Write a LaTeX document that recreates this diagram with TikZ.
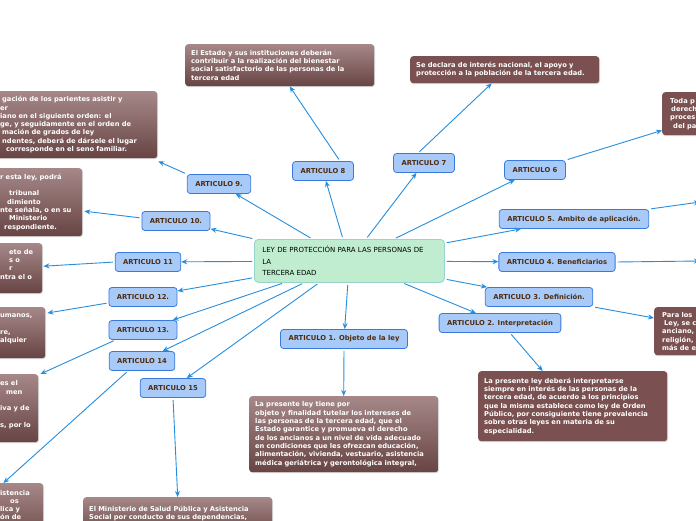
\documentclass[tikz,border=0pt]{standalone}
\usepackage{fontspec}
\setmainfont{DejaVu Sans}
\usetikzlibrary{arrows.meta,shadows}

\definecolor{linkblue}{RGB}{38,142,222}
\definecolor{artfill}{RGB}{168,202,248}
\definecolor{artline}{RGB}{58,122,222}
\definecolor{arttext}{RGB}{80,44,16}
\definecolor{leyfill}{RGB}{192,236,208}
\definecolor{leyline}{RGB}{150,212,204}
\definecolor{infoflat}{RGB}{122,80,80}
\definecolor{infotop}{RGB}{166,136,136}
\definecolor{infobot}{RGB}{104,68,68}

\tikzset{
  article/.style={draw=artline,fill=artfill,line width=0.8pt,rounded corners=3pt,
    text=arttext,font=\bfseries\fontsize{6.8}{8}\selectfont,inner xsep=8pt,minimum height=19pt},
  info/.style={anchor=north west,rounded corners=3pt,text=white,align=left,
    font=\bfseries\fontsize{6.7}{8.3}\selectfont,inner xsep=6pt,text width=177pt,
    drop shadow={shadow xshift=0.8pt,shadow yshift=-1pt,opacity=0.3}},
  flatbox/.style={info,fill=infoflat},
  shadebox/.style={info,top color=infotop,bottom color=infobot},
  cutbox/.style={inner xsep=8pt},
  conn/.style={draw=linkblue,line width=0.9pt,shorten <=2pt,-{Stealth[length=6pt,width=5pt]}},
}

\begin{document}
\begin{tikzpicture}[x=1pt,y=-1pt]
        \useasboundingbox (0,0) rectangle (696,520);
        \clip (0,0) rectangle (696,520);
        \fill[white] (0,0) rectangle (696,520);
        % central topic
        \node[draw=leyline,fill=leyfill,line width=0.8pt,rounded corners=4pt,anchor=north west,
          align=left,text width=174pt,inner xsep=8pt,minimum height=43pt,font=\fontsize{7}{11.5}\selectfont]
          (ley) at (254,239) {LEY DE PROTECCIÓN PARA LAS PERSONAS DE\\LA\\TERCERA EDAD};
        % articles
        \node[article] (a1) at (344,339) {ARTICULO 1. Objeto de la ley};
        \node[article] (a2) at (500,323) {ARTICULO 2. Interpretación};
        \node[article] (a3) at (539,297) {ARTICULO 3. Definición.};
        \node[article] (a4) at (557,262) {ARTICULO 4. Beneficiarios};
        \node[article] (a5) at (574,219) {ARTICULO 5. Ambito de aplicación.};
        \node[article] (a6) at (535,170) {ARTICULO 6};
        \node[article] (a7) at (424,163) {ARTICULO 7};
        \node[article] (a8) at (323,171) {ARTICULO 8};
        \node[article] (a9) at (219,184) {ARTICULO 9.};
        \node[article] (a10) at (176,221) {ARTICULO 10.};
        \node[article] (a11) at (148,262) {ARTICULO 11};
        \node[article] (a12) at (143,297) {ARTICULO 12.};
        \node[article] (a13) at (143,330) {ARTICULO 13.};
        \node[article] (a14) at (142,361) {ARTICULO 14};
        \node[article] (a15) at (173,388) {ARTICULO 15};
        % texts
        \node[shadebox,minimum height=42pt] (t8) at (185,44) {El Estado y sus instituciones deberán\\
          contribuir a la realización del bienestar\\social satisfactorio de las personas de la\\tercera edad};
        \node[flatbox,minimum height=27pt] (t7) at (410,56) {Se declara de interés nacional, el apoyo y\\
          protección a la población de la tercera edad.};
        \node[flatbox,cutbox,text width=60pt,minimum height=43pt] (t6) at (662,92)
          {Toda p\\\hspace*{1pt}derech\\proces\\\hspace*{3pt}del pa};
        \coordinate (t5) at (700,202);
        \coordinate (t4) at (700,261);
        \node[flatbox,cutbox,text width=60pt,minimum height=48pt] (t3) at (654,307)
          {Para los\\\hspace*{2pt}Ley, se c\\anciano,\\religión,\\más de e};
        \node[flatbox,minimum height=70pt] (t2) at (478,371) {La presente ley deberá interpretarse\\
          siempre en interés de las personas de la\\tercera edad, de acuerdo a los principios\\
          que la misma establece como ley de Orden\\Público, por consiguiente tiene prevalencia\\
          sobre otras leyes en materia de su\\especialidad.};
        \node[shadebox,minimum height=76pt] (t1) at (249,396) {La presente ley tiene por\\
          objeto y finalidad tutelar los intereses de\\las personas de la tercera edad, que el\\
          Estado garantice y promueva el derecho\\de los ancianos a un nivel de vida adecuado\\
          en condiciones que les ofrezcan educación,\\alimentación, vivienda, vestuario, asistencia\\
          médica geriátrica y gerontológica integral,};
        \node[shadebox,minimum height=40pt] (t15) at (83,497) {El Ministerio de Salud Pública y Asistencia\\
          Social por conducto de sus dependencias,\\\mbox{}};
        \node[shadebox,cutbox,text width=149pt,minimum height=67pt] (t9) at (-8,91)
          {\hspace*{2pt}gación de los parientes asistir y\\er\\iano en el siguiente orden: el\\
          ge, y seguidamente en el orden de\\\hspace*{2pt}mación de grados de ley\\
          \hspace*{2pt}ndentes, deberá de dársele el lugar\\\hspace*{6pt}corresponde en el seno familiar.};
        \node[shadebox,cutbox,text width=74pt,minimum height=68pt] (t10) at (-8,168)
          {r esta ley, podrá\\\mbox{}\\\hspace*{9pt}tribunal\\\hspace*{7pt}dimiento\\nte señala, o en su\\
          \hspace*{9pt}Ministerio\\\hspace*{4pt}respondiente.};
        \node[shadebox,cutbox,text width=34pt,minimum height=50pt] (t11) at (-8,243)
          {\hspace*{9pt}eto~de\\\hspace*{9pt}s~o\\\hspace*{9pt}r\\ntra~el~o\\\mbox{}};
        \node[shadebox,cutbox,text width=37pt,minimum height=51pt] (t12) at (-8,307)
          {umanos,\\\mbox{}\\re,\\alquier\\\mbox{}};
        \node[shadebox,cutbox,text width=30pt,minimum height=68pt] (t13) at (-8,374)
          {es~el\\\hspace*{6pt}men\\\mbox{}\\iva~y~de\\\mbox{}\\s,~por~lo\\\mbox{}};
        \node[shadebox,cutbox,text width=35pt,minimum height=60pt] (t14) at (-8,483)
          {istencia\\\hspace*{10pt}os\\lica~y\\ón~de\\\mbox{}\\\mbox{}};
        % connectors from the law
        \foreach \n in {1,...,15}
          \draw[conn] (ley) -- (a\n);
        % connectors to the texts
        \draw[conn] (a1.south) -- (t1.north);
        \draw[conn] ([xshift=10pt]a2.south) -- ([xshift=-30pt]t2.north);
        \draw[conn] (a3.south east) -- ([yshift=-11pt]t3.north west);
        \draw[conn] (a4.east) -- (t4);
        \draw[conn] (a5.north east) -- (t5);
        \draw[conn] (a6.north east) -- ([yshift=5pt]t6.south west);
        \draw[conn] ([xshift=-6pt]a7.north) -- ([xshift=-13pt]t7.south);
        \draw[conn] ([xshift=17pt]a8.north) -- ([xshift=10pt]t8.south);
        \draw[conn] (a9.north west) -- ([xshift=1pt,yshift=-3pt]t9.south east);
        \draw[conn] ([yshift=3pt]a10.west) -- ([xshift=2pt,yshift=-9pt]t10.east);
        \draw[conn] (a11.west) -- ([xshift=1pt,yshift=2pt]t11.east);
        \draw[conn] ([yshift=4pt]a12.south west) -- ([xshift=2pt,yshift=-6pt]t12.north east);
        \draw[conn] ([xshift=7pt]a13.south west) -- ([xshift=2pt]t13.north east);
        \draw[conn] ([xshift=-14pt]a14.south) -- ([xshift=-40pt]t14.north east);
        \draw[conn] (a15.south) -- (t15.north);
      \end{tikzpicture}
\end{document}
